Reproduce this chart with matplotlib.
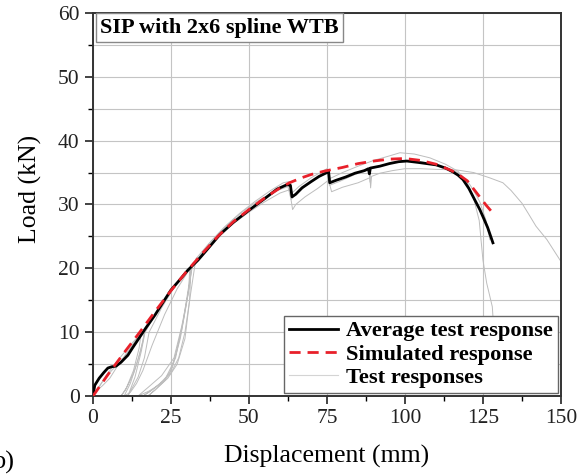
import numpy as np
import matplotlib
matplotlib.use("Agg")
import matplotlib.pyplot as plt
from matplotlib.ticker import MultipleLocator

plt.rcParams["font.family"] = ["Liberation Serif", "DejaVu Serif"]

# average test response
avg_x = [0, 0.6, 2, 3.5, 4.8, 6, 7.4, 9, 11.2, 12.5, 14.4, 17, 19.9, 22.5, 25, 28, 30.4, 33.7, 36, 40.7, 45, 50.3,
         55, 59, 62.2, 63.3, 63.8, 65, 67, 70, 72.5, 75, 75.5, 75.9, 78, 81, 84, 87, 88.3, 88.6, 88.9, 92, 95,
         98, 100.6, 104, 107, 110, 113, 115.4, 117, 118.6, 120.5, 122.4, 124, 125, 126.5, 128.2]
avg_y = [0, 1.7, 2.8, 3.7, 4.4, 4.6, 4.7, 5.3, 6.4, 7.4, 8.8, 10.7, 12.7, 14.7, 16.6, 18.3, 19.7, 21.3, 22.6, 25.3,
         27.2, 29.2, 30.9, 32.4, 33.1, 33.0, 31.2, 31.6, 32.6, 33.6, 34.4, 35.0, 35.3, 33.4, 33.8, 34.3, 34.9,
         35.3, 35.6, 34.8, 35.7, 36.0, 36.4, 36.7, 36.8, 36.6, 36.4, 36.2, 35.7, 35.1, 34.6, 33.9, 32.5, 30.7,
         29.2, 28.1, 26.4, 24.0]

# simulated response
sim_x = [0, 5, 10, 15, 20, 25, 30, 35, 40, 45, 50, 55, 60, 63, 67, 70, 74, 80, 85, 90, 95, 100, 105, 110,
         115, 118, 120, 123, 126, 128.8]
sim_y = [0, 3.5, 6.8, 10.0, 13.3, 16.5, 19.5, 22.3, 25.0, 27.3, 29.2, 31.0, 32.6, 33.4, 34.2, 34.7, 35.2, 35.8,
         36.4, 36.8, 37.1, 37.2, 36.9, 36.3, 35.3, 34.4, 33.7, 31.8, 29.9, 28.3]

# individual test responses
t1_x = [0, 3, 6, 10, 13, 15.5, 14.8, 13, 10.5, 9, 11, 13, 15, 16.5, 20, 25, 29, 31.4, 31, 29.5, 27, 24, 20, 17.6,
        20, 23, 25.5, 28, 30, 32, 36, 40, 45, 50, 55, 60, 63, 64, 65, 68, 72, 75.5, 76.5, 80, 85, 88.8, 89, 89.3,
        92, 96, 100, 105, 110, 116.7, 122, 127, 131.4, 134, 137.5, 139.4, 142, 145.5, 149.7]
t1_y = [0, 2.2, 4.0, 6.0, 8.2, 10.0, 7.5, 4.0, 1.0, 0, 1.5, 3.5, 6.5, 9.8, 12.8, 16.5, 19.0, 20.1, 15.0, 9.0, 5.0,
        2.8, 1.0, 0, 1.0, 2.5, 4.5, 9.0, 14.5, 20.8, 22.5, 24.8, 27.0, 28.8, 30.4, 31.8, 32.3, 29.2, 30.0, 31.2,
        32.5, 33.8, 32.0, 32.7, 33.4, 34.2, 32.6, 34.4, 34.9, 35.3, 35.6, 35.6, 35.5, 35.4, 35.0, 34.2, 33.4,
        32.2, 30.2, 28.7, 26.6, 24.5, 21.3]
t2_x = [0, 2, 4.5, 8, 12, 15, 16.7, 15.5, 13.5, 11.2, 12.5, 14.5, 16.5, 18, 22, 26, 30, 31.4, 30.5, 28.5, 26,
        22, 18, 14.4, 18, 22, 25, 27.5, 29.5, 31, 33, 37, 42, 47, 52, 57, 61, 63, 63.8, 66, 70, 75, 75.7, 80,
        85, 90, 95, 98.4, 103, 108, 113, 117, 120, 122, 123.8, 125, 126.2, 128, 128.8, 129.3]
t2_y = [0, 1.5, 3.4, 5.6, 8.0, 9.6, 10.0, 7.0, 3.0, 0, 1.2, 3.0, 6.0, 10.0, 13.8, 17.0, 19.5, 20.1, 16.0, 11.0,
        6.0, 3.2, 1.5, 0, 0.8, 2.0, 3.6, 6.0, 10.0, 15.0, 21.5, 23.8, 26.4, 28.6, 30.5, 32.2, 33.4, 33.6, 31.8,
        32.8, 34.2, 35.6, 34.0, 35.0, 36.0, 36.9, 37.6, 38.1, 37.9, 37.3, 36.3, 35.2, 33.4, 31.0, 27.5, 21.3,
        17.7, 14.0, 8.0, 3.0]
t3_x = [0, 1.5, 3, 5.4, 8, 11, 14, 16.5, 16, 14, 12, 10, 12, 14, 16, 19, 23, 27, 31, 30.8, 29, 26.5, 23, 19,
        16, 18.5, 21.5, 24.7, 26.5, 28.5, 30.5, 31.8, 34, 38, 43, 48, 53, 58, 62.5, 63.5, 65, 68, 72, 75.3, 75.8,
        79, 84, 88.5, 88.8, 89.1, 93, 97, 101, 105, 109, 113, 117, 120, 122, 124, 126, 127.2]
t3_y = [0, 1.0, 1.6, 2.8, 4.8, 6.9, 8.9, 10.1, 8.5, 5.0, 2.0, 0, 0.6, 2.0, 4.0, 8.0, 12.8, 16.8, 19.9, 17.5, 12.0,
        6.0, 2.5, 1.0, 0, 0.8, 2.0, 3.6, 6.5, 10.5, 16.0, 20.6, 21.8, 24.3, 26.8, 28.9, 30.6, 32.0, 32.8, 30.8,
        31.5, 32.8, 34.2, 35.1, 33.0, 33.6, 34.7, 35.4, 33.5, 35.6, 36.1, 36.6, 36.9, 36.7, 36.4, 35.8, 35.0,
        33.7, 32.2, 30.4, 27.5, 24.5]

fig, ax = plt.subplots(figsize=(5.88, 4.75), dpi=100)
fig.subplots_adjust(left=0.158, right=0.954, bottom=0.166, top=0.973)

for tx, ty in [(t1_x, t1_y), (t2_x, t2_y), (t3_x, t3_y)]:
    ax.plot(tx, ty, color="#bdbdbd", lw=0.7, zorder=2)
ax.plot([], [], color="#d4d4d4", lw=0.8, label="Test responses")
ax.plot(avg_x, avg_y, color="black", lw=2.0, zorder=3, label="Average test response")
ax.plot(sim_x, sim_y, color="#e8202a", lw=2.0, ls=(0, (4, 2.5)), zorder=4, label="Simulated response")

ax.set_xlim(0, 150)
ax.set_ylim(0, 60)
ax.xaxis.set_major_locator(MultipleLocator(25))
ax.xaxis.set_minor_locator(MultipleLocator(12.5))
ax.yaxis.set_major_locator(MultipleLocator(10))
ax.yaxis.set_minor_locator(MultipleLocator(5))
ax.grid(which="major", color="#c4c4c4", lw=0.8, zorder=0)
ax.grid(which="minor", axis="y", color="#c4c4c4", lw=0.8, zorder=0)
ax.set_axisbelow(True)
ax.tick_params(which="major", direction="out", length=6, width=1.2, labelsize=15.5, colors="#222222")
ax.tick_params(which="minor", direction="out", length=3.5, width=1.0)
for s in ax.spines.values():
    s.set_linewidth(1.4)
    s.set_color("#333333")

ax.set_xlabel("Displacement (mm)", fontsize=18.5, labelpad=12)
ax.set_ylabel("Load (kN)", fontsize=18.5)
ax.yaxis.set_label_coords(-0.108, 0.54)

ax.text(0.016, 0.987, "SIP with 2x6 spline WTB", transform=ax.transAxes, ha="left", va="top",
        fontsize=16, fontweight="bold", zorder=6,
        bbox=dict(boxstyle="square,pad=0.2", fc="white", ec="#888888", lw=1.0))

handles, labels = ax.get_legend_handles_labels()
order = [1, 2, 0]
leg = ax.legend([handles[i] for i in order], [labels[i] for i in order], loc="lower right",
                prop={"weight": "bold", "size": 16.2}, fancybox=False, edgecolor="#666666",
                framealpha=1, borderaxespad=0.15, borderpad=0.2, labelspacing=0.12,
                handlelength=2.2, handletextpad=0.35)
leg.get_frame().set_linewidth(1.0)
leg.set_zorder(7)

fig.text(-0.013, 0.003, "b)", fontsize=19, ha="left", va="bottom")

plt.savefig("out.png", dpi=100)
